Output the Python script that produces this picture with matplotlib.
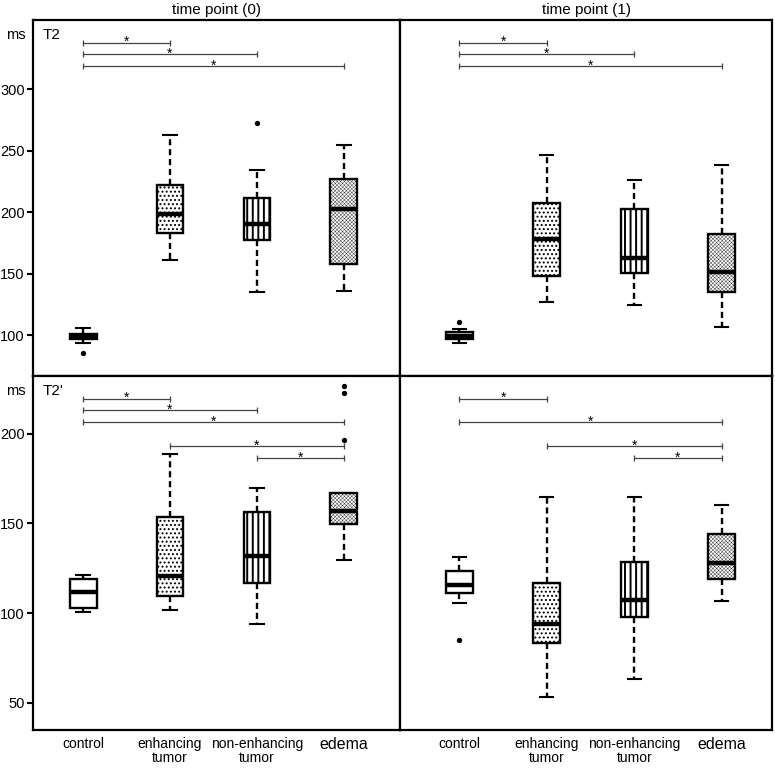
import matplotlib
matplotlib.use('Agg')
import matplotlib.pyplot as plt

plt.rcParams['font.family'] = ['Liberation Sans', 'DejaVu Sans']

groups = ['control', 'enhancing\ntumor', 'non-enhancing\ntumor', 'edema']
col_titles = ['time point (0)', 'time point (1)']
row_labels = ['T2', "T2'"]

# box statistics per panel: control, enhancing, non-enhancing, edema
t2_t0_med = [99, 198.5, 191, 203]
t2_t0_q1 = [97, 183, 178, 158]
t2_t0_q3 = [101.5, 222.5, 212, 227]
t2_t0_lo = [94, 161.5, 135.5, 136]
t2_t0_hi = [106, 263, 234.5, 254.5]
t2_t0_out = [[86], [], [273], []]

t2_t1_med = [99.7, 178.5, 163, 151.5]
t2_t1_q1 = [97.3, 148, 150.5, 135]
t2_t1_q3 = [102.7, 208, 202.5, 182.5]
t2_t1_lo = [94, 127.5, 124.5, 107]
t2_t1_hi = [105, 247, 226.5, 238.5]
t2_t1_out = [[111], [], [], []]

t2p_t0_med = [111.5, 120.5, 132, 157]
t2p_t0_q1 = [103, 109.5, 116.5, 149.5]
t2p_t0_q3 = [119, 153.5, 156.5, 167]
t2p_t0_lo = [100.5, 101.5, 94, 129.5]
t2p_t0_hi = [121.5, 188.5, 169.5, 167]
t2p_t0_out = [[], [], [], [226.5, 222.5, 196.5]]

t2p_t1_med = [115.5, 94, 107.5, 128]
t2p_t1_q1 = [111, 83.5, 98, 119]
t2p_t1_q3 = [123.5, 117, 128.5, 144]
t2p_t1_lo = [105.5, 53, 63, 106.5]
t2p_t1_hi = [131, 164.5, 164.5, 160.5]
t2p_t1_out = [[85], [], [], []]

# significance brackets: (group a, group b, height)
t2_t0_sig = [(1, 2, 338), (1, 3, 328.5), (1, 4, 319)]
t2_t1_sig = [(1, 2, 338), (1, 3, 328.5), (1, 4, 319)]
t2p_t0_sig = [(1, 2, 219.5), (1, 3, 213), (1, 4, 206.5), (2, 4, 193), (3, 4, 186.5)]
t2p_t1_sig = [(1, 2, 219.5), (1, 4, 206.5), (2, 4, 193), (3, 4, 186.5)]

panels = [
    [(t2_t0_med, t2_t0_q1, t2_t0_q3, t2_t0_lo, t2_t0_hi, t2_t0_out, t2_t0_sig),
     (t2_t1_med, t2_t1_q1, t2_t1_q3, t2_t1_lo, t2_t1_hi, t2_t1_out, t2_t1_sig)],
    [(t2p_t0_med, t2p_t0_q1, t2p_t0_q3, t2p_t0_lo, t2p_t0_hi, t2p_t0_out, t2p_t0_sig),
     (t2p_t1_med, t2p_t1_q1, t2p_t1_q3, t2p_t1_lo, t2p_t1_hi, t2p_t1_out, t2p_t1_sig)],
]

row_ylim = [(67, 356.5), (34.8, 232.2)]
row_ticks = [[100, 150, 200, 250, 300], [50, 100, 150, 200]]
col_xlim = [(0.425, 4.644), (0.322, 4.575)]
hatches = [None, '....', '|||', 'xxxxxxxxx']
hatch_lw = [1.0, 0.9, 1.4, 0.25]

fig = plt.figure(figsize=(7.75, 7.68), dpi=100)
W, H = 775.0, 768.0
col_px = [(33, 400), (400, 772)]
row_px = [(20, 376), (376, 730)]

for r in range(2):
    for c in range(2):
        x0, x1 = col_px[c]
        y0, y1 = row_px[r]
        ax = fig.add_axes([x0 / W, 1 - y1 / H, (x1 - x0) / W, (y1 - y0) / H])
        med, q1, q3, lo, hi, out, sig = panels[r][c]
        stats = []
        for i in range(4):
            stats.append(dict(med=med[i], q1=q1[i], q3=q3[i],
                              whislo=lo[i], whishi=hi[i], fliers=out[i]))
        bp = ax.bxp(stats, positions=[1, 2, 3, 4], widths=0.31, capwidths=0.15,
                    patch_artist=True, showfliers=True,
                    boxprops=dict(facecolor='white', edgecolor='black', linewidth=1.7),
                    medianprops=dict(color='black', linewidth=3.2, solid_capstyle='butt'),
                    whiskerprops=dict(color='black', linewidth=1.7, linestyle=(0, (2.6, 1.6))),
                    capprops=dict(color='black', linewidth=1.5),
                    flierprops=dict(marker='o', markersize=2.8, markerfacecolor='black',
                                    markeredgecolor='black'))
        for i, box in enumerate(bp['boxes']):
            if hatches[i]:
                box.set_hatch(hatches[i])
                box.set_hatch_linewidth(hatch_lw[i])

        for a, b, y in sig:
            ax.plot([a, b], [y, y], color='#444444', linewidth=0.9)
            ax.plot([a, b], [y, y], linestyle='none', marker='|', markersize=4,
                    markeredgewidth=0.9, color='#444444')
            ax.annotate('*', xy=((a + b) / 2, y), xytext=(0, -2.5),
                        textcoords='offset points', ha='center', va='baseline',
                        fontsize=10, color='black')

        ax.set_xlim(*col_xlim[c])
        ax.set_ylim(*row_ylim[r])
        for s in ax.spines.values():
            s.set_linewidth(1.6)
        if c == 0:
            ax.set_yticks(row_ticks[r])
            ax.tick_params(axis='y', direction='out', length=4, width=1.5,
                           labelsize=10.5, pad=2)
            ax.text(-0.02, 0.958, 'ms', transform=ax.transAxes, ha='right',
                    va='center', fontsize=10.5)
            ax.text(0.027, 0.958, row_labels[r], transform=ax.transAxes,
                    ha='left', va='center', fontsize=11)
        else:
            ax.set_yticks([])
        if r == 0:
            ax.set_title(col_titles[c], fontsize=11, pad=4)
            ax.set_xticks([])
        else:
            ax.set_xticks([1, 2, 3, 4])
            ax.set_xticklabels(groups, fontsize=10, linespacing=1.0)
            ax.get_xticklabels()[3].set_fontsize(11.5)
            ax.tick_params(axis='x', length=0, pad=5)

fig.savefig('out.png', dpi=100)
